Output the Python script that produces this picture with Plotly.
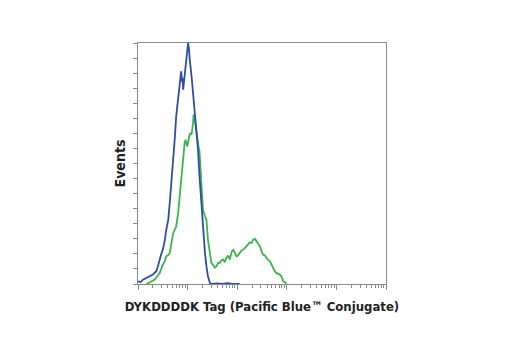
import plotly.graph_objects as go

# log10 fluorescence intensity and % of max events
blue_log = [0.00, 0.05, 0.10, 0.15, 0.20, 0.25, 0.30, 0.34, 0.37, 0.41, 0.44, 0.47, 0.50, 0.54,
            0.57, 0.61, 0.64, 0.67, 0.71, 0.74, 0.77, 0.81, 0.84, 0.87, 0.89, 0.90, 0.91, 0.93,
            0.95, 0.98, 1.00, 1.01, 1.03, 1.04, 1.08, 1.11, 1.14, 1.18, 1.21, 1.24, 1.28, 1.31,
            1.35, 1.38, 1.41, 1.45, 1.48, 1.60, 1.70, 1.80, 1.90, 2.05]
blue_val = [1.1, 0.8, 1.8, 2.4, 2.9, 3.5, 3.9, 4.8, 5.3, 8.0, 10.8, 12.5, 14.2, 18.0,
            22.5, 26.7, 33.6, 40.5, 50.2, 59.9, 69.6, 77.9, 84.1, 88.2, 84.0, 85.5, 80.6, 84.8,
            90.3, 95.9, 98.6, 100.0, 97.2, 93.8, 86.2, 79.3, 73.7, 62.7, 55.7, 44.7, 32.2, 21.2,
            12.9, 7.3, 3.2, 0.4, 0.0, 0.2, 0.0, 0.3, 0.0, 0.0]

green_log = [0.17, 0.24, 0.30, 0.34, 0.40, 0.44, 0.50, 0.54, 0.57, 0.61, 0.64, 0.67, 0.71, 0.74,
             0.77, 0.81, 0.84, 0.87, 0.91, 0.94, 0.96, 0.99, 1.01, 1.03, 1.06, 1.08, 1.11, 1.12,
             1.14, 1.16, 1.19, 1.22, 1.24, 1.27, 1.29, 1.31, 1.35, 1.38, 1.41, 1.45, 1.48, 1.51,
             1.55, 1.58, 1.62, 1.65, 1.68, 1.72, 1.75, 1.78, 1.82, 1.85, 1.89, 1.92, 1.95, 1.99,
             2.02, 2.05, 2.09, 2.12, 2.16, 2.19, 2.22, 2.25, 2.29, 2.32, 2.36, 2.39, 2.42, 2.46,
             2.49, 2.52, 2.56, 2.59, 2.62, 2.66, 2.70, 2.73, 2.76, 2.79, 2.83, 2.86, 2.89, 2.93,
             2.96, 2.99]
green_val = [0.0, 0.7, 1.2, 1.8, 3.5, 4.6, 8.0, 9.5, 11.5, 12.0, 12.9, 17.0, 21.2, 22.5,
             23.9, 29.5, 36.4, 44.7, 53.0, 58.5, 59.9, 57.1, 58.5, 61.3, 62.7, 62.0, 66.8, 70.3,
             68.9, 65.4, 59.9, 57.1, 55.0, 44.7, 35.0, 30.8, 28.1, 26.7, 18.4, 12.9, 8.7, 8.0,
             6.8, 7.3, 8.9, 8.7, 9.8, 10.1, 9.0, 10.8, 11.8, 10.1, 13.5, 14.2, 12.9, 11.5,
             12.0, 12.9, 14.0, 14.2, 15.0, 15.6, 16.4, 17.3, 17.0, 18.4, 18.7, 17.7, 17.0, 15.6,
             13.6, 12.2, 11.8, 10.8, 10.0, 9.4, 7.5, 5.9, 5.2, 4.6, 4.2, 3.9, 3.2, 1.1,
             0.8, 0.0]

x_label = "DYKDDDDK Tag (Pacific Blue\u2122 Conjugate)"
y_label = "Events"

axis_color = "#8a8a8a"
font_family = "Liberation Sans Narrow, DejaVu Sans Condensed, Arial Narrow, sans-serif"

fig = go.Figure()
fig.add_trace(go.Scatter(x=[10 ** v for v in green_log], y=green_val, mode="lines",
                         line=dict(color="#3db54a", width=1.8), showlegend=False))
fig.add_trace(go.Scatter(x=[10 ** v for v in blue_log], y=blue_val, mode="lines",
                         line=dict(color="#2d4ea3", width=1.8), showlegend=False))

fig.update_layout(
    width=520, height=350,
    margin=dict(l=138, r=134, t=43, b=66),
    paper_bgcolor="white", plot_bgcolor="white",
    font=dict(family=font_family, color="#222222"),
    xaxis=dict(
        type="log", range=[0, 5], dtick=1,
        showticklabels=False, showgrid=False, zeroline=False,
        ticks="outside", ticklen=5, tickcolor=axis_color, tickwidth=1,
        minor=dict(ticks="outside", ticklen=3, tickcolor=axis_color, dtick="D1", showgrid=False),
        showline=True, linecolor=axis_color, linewidth=1, mirror=True,
        title=dict(text="<b>" + x_label + "</b>", font=dict(size=13, family=font_family), standoff=12),
    ),
    yaxis=dict(
        range=[0, 100], dtick=6.25,
        showticklabels=False, showgrid=False, zeroline=False,
        ticks="outside", ticklen=4, tickcolor=axis_color, tickwidth=1,
        showline=True, linecolor=axis_color, linewidth=1, mirror=True,
        title=dict(text="<b>" + y_label + "</b>", font=dict(size=14, family=font_family), standoff=4),
    ),
)

fig.write_html("out.html")
